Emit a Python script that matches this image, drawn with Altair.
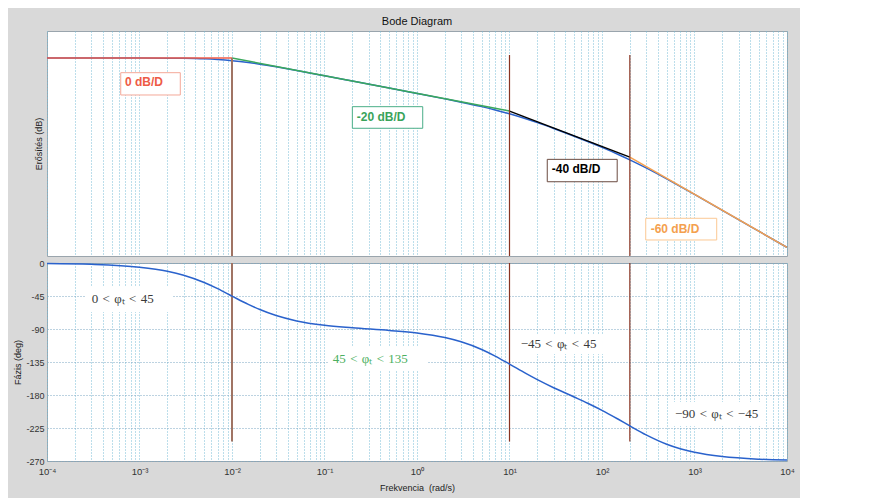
import altair as alt
import pandas as pd

# ---------------- data ----------------
freq_mag = [1e-4, 1e-3, 2e-3, 3e-3, 5e-3, 7e-3, 1e-2, 1.5e-2, 2e-2, 3e-2, 5e-2, 0.1, 0.2, 0.5,
            1, 2, 3, 5, 7, 10, 15, 20, 30, 50, 70, 100, 150, 200, 300, 500, 700, 1000, 2000, 5000, 1e4]
mag_db = [0.0, -0.04, -0.17, -0.38, -0.97, -1.74, -3.01, -5.12, -6.99, -10.0, -14.15, -20.04, -26.03, -34.0,
          -40.04, -46.19, -49.9, -54.95, -58.64, -63.02, -68.66, -73.05, -79.64, -88.39, -94.4, -101.01,
          -108.98, -115.06, -124.21, -136.56, -145.02, -154.15, -172.08, -195.92, -214.0]

freq_ph = [1e-4, 3e-4, 1e-3, 2e-3, 3e-3, 5e-3, 7e-3, 1e-2, 1.5e-2, 2e-2, 3e-2, 5e-2, 0.1, 0.2, 0.5,
           1, 2, 3, 5, 7, 10, 15, 20, 30, 50, 70, 100, 150, 200, 300, 500, 700, 1000, 2000, 5000, 1e4]
phase_deg = [-0.6, -1.7, -5.7, -11.3, -16.7, -26.6, -35.0, -45.1, -56.4, -63.5, -71.7, -79.0, -84.9, -88.3,
             -91.9, -95.4, -101.6, -107.4, -117.9, -126.9, -137.8, -150.6, -159.1, -170.1, -182.7, -191.2,
             -200.9, -213.1, -222.1, -234.4, -247.1, -253.2, -258.1, -264.0, -267.6, -268.8]

# asymptotes
asym_name = ["0", "0", "-20", "-20", "-40", "-40", "-60", "-60"]
asym_freq = [1e-4, 1e-2, 1e-2, 10, 10, 200, 200, 1e4]
asym_db = [0.0, 0.0, 0.0, -60.0, -60.0, -112.04, -112.04, -214.0]
asym_order = ["0", "-20", "-40", "-60"]
asym_colors = ["#f05c48", "#3aa85c", "#000000", "#f5a04e"]

# corner frequencies (vertical lines)
corner_freq = [0.01, 10, 200]
corner_top_db = [0.0, 3.4, 3.4]
corner_color = ["#a07464", "#8a3422", "#8a3422"]
corner_width = [2.0, 1.2, 1.2]
corner_phase_top = [0.0, 0.0, 0.0]
corner_phase_end = [-243.5, -243.5, -243.5]

# magnitude annotations
mag_labels = ["0 dB/D", "-20 dB/D", "-40 dB/D", "-60 dB/D"]
mag_label_x = [6.97e-4, 0.223, 28.6, 336]
mag_label_y = [-27.5, -67.0, -125.8, -192.9]
mag_box_x1 = [6.27e-4, 0.2, 25.6, 297]
mag_box_x2 = [2.76e-3, 1.153, 146, 1738]
mag_box_y1 = [-16.6, -55.0, -114.5, -181.1]
mag_box_y2 = [-41.8, -79.4, -139.8, -205.6]
mag_text_color = ["#ee5b45", "#3aa35a", "#000000", "#f4a04e"]
mag_box_color = ["#f4a898", "#4aae88", "#6b4b40", "#fbc894"]

# phase annotations
sp = "\u2004"
ph_labels = [f"0{sp}<{sp}φₜ{sp}<{sp}45", f"45{sp}<{sp}φₜ{sp}<{sp}135",
             f"−45{sp}<{sp}φₜ{sp}<{sp}45", f"−90{sp}<{sp}φₜ{sp}<{sp}−45"]
ph_label_x = [3.04e-4, 0.123, 13.2, 615]
ph_label_y = [-49.1, -131.0, -110.5, -206.0]
ph_box_x1 = [2.58e-4, 0.109, 11.5, 543]
ph_box_x2 = [2.3e-3, 1.315, 102.5, 5780]
ph_box_y1 = [-31.4, -114.6, -96.9, -189.6]
ph_box_y2 = [-66.8, -147.3, -124.1, -222.4]
ph_text_color = ["#3a3a3a", "#4cb060", "#3a3a3a", "#3a3a3a"]

# axis ticks
decades = [-4, -3, -2, -1, 0, 1, 2, 3]
mults = [1, 2, 3, 4, 5, 6, 7, 8, 9]
decade_labels = ["10⁻⁴", "10⁻³", "10⁻²", "10⁻¹", "10⁰", "10¹", "10²", "10³", "10⁴"]
phase_ticks = [0, -45, -90, -135, -180, -225, -270]

tick_vals = [m * 10.0 ** k for k in decades for m in mults] + [1e4]

# ---------------- frames ----------------
df_mag = pd.DataFrame({"f": freq_mag, "v": mag_db})
df_ph = pd.DataFrame({"f": freq_ph, "v": phase_deg})
df_asym = pd.DataFrame({"f": asym_freq, "v": asym_db, "s": asym_name})
df_corner = pd.DataFrame({"f": corner_freq, "top": corner_top_db, "c": corner_color,
                          "w": corner_width, "ptop": corner_phase_top, "pend": corner_phase_end})
df_mag_ann = pd.DataFrame({"t": mag_labels, "x": mag_label_x, "y": mag_label_y,
                           "x1": mag_box_x1, "x2": mag_box_x2, "y1": mag_box_y1, "y2": mag_box_y2,
                           "tc": mag_text_color, "bc": mag_box_color})
df_ph_ann = pd.DataFrame({"t": ph_labels, "x": ph_label_x, "y": ph_label_y,
                          "x1": ph_box_x1, "x2": ph_box_x2, "y1": ph_box_y1, "y2": ph_box_y2,
                          "tc": ph_text_color})

W = 740
H_TOP = 225
H_BOT = 198
GRID_COL = "#78bcd6"

xs = alt.Scale(type="log", domain=[1e-4, 1e4], nice=False)
label_expr = ("abs(log(datum.value)/LN10 - round(log(datum.value)/LN10)) < 0.001 ? "
              + str(decade_labels) + "[round(log(datum.value)/LN10) + 4] : ''")

x_axis_top = alt.Axis(values=tick_vals, labels=False, ticks=False, domain=False, title=None,
                      grid=True, gridColor=GRID_COL, gridDash=[1, 2], gridWidth=1, gridOpacity=1)
x_axis_bot = alt.Axis(values=tick_vals, labelExpr=label_expr, ticks=False, domain=False,
                      title="Frekvencia\u00a0 (rad/s)", titleFontSize=9, titlePadding=7.5,
                      labelFontSize=9.5, labelPadding=5, labelFlush=False, labelOverlap=False,
                      grid=True, gridColor=GRID_COL, gridDash=[1, 2], gridWidth=1, gridOpacity=1)

ys_top = alt.Scale(domain=[-223.7, 30.5], nice=False, zero=False)
y_axis_top = alt.Axis(labels=False, ticks=False, domain=False, grid=False,
                      title="Erősítés (dB)", titleFontSize=9, titleX=-4)
ys_bot = alt.Scale(domain=[-270, 0], nice=False, zero=False)
y_axis_bot = alt.Axis(values=phase_ticks, labelExpr="datum.value == 0 ? '0' : '-' + abs(datum.value)",
                      ticks=False, domain=False, labelFontSize=9, labelPadding=3,
                      grid=True, gridColor="#7aa6c2", gridDash=[1, 2], gridWidth=1, gridOpacity=1,
                      title="Fázis (deg)", titleFontSize=9, titleX=-25)

# ---------------- top panel ----------------
blue_top = alt.Chart(df_mag).mark_line(color="#2a62cc", strokeWidth=1.5, interpolate="monotone").encode(
    x=alt.X("f:Q", scale=xs, axis=x_axis_top),
    y=alt.Y("v:Q", scale=ys_top, axis=y_axis_top))

asym = alt.Chart(df_asym).mark_line(strokeWidth=1.5).encode(
    x=alt.X("f:Q", scale=xs, axis=x_axis_top),
    y=alt.Y("v:Q", scale=ys_top, axis=y_axis_top),
    color=alt.Color("s:N", scale=alt.Scale(domain=asym_order, range=asym_colors), legend=None),
    detail="s:N")

rules_top = alt.Chart(df_corner).mark_rule().encode(
    x=alt.X("f:Q", scale=xs, axis=x_axis_top),
    y=alt.Y("top:Q", scale=ys_top, axis=y_axis_top),
    y2=alt.value(H_TOP),
    color=alt.Color("c:N", scale=None),
    strokeWidth=alt.StrokeWidth("w:Q", scale=None))

mag_boxes = alt.Chart(df_mag_ann).mark_rect(fill="white", strokeWidth=1).encode(
    x=alt.X("x1:Q", scale=xs, axis=x_axis_top), x2="x2:Q",
    y=alt.Y("y1:Q", scale=ys_top, axis=y_axis_top), y2="y2:Q",
    stroke=alt.Stroke("bc:N", scale=None))

mag_text = alt.Chart(df_mag_ann).mark_text(align="left", baseline="middle", font="Liberation Sans",
                                           fontSize=12, fontWeight="bold").encode(
    x=alt.X("x:Q", scale=xs, axis=x_axis_top),
    y=alt.Y("y:Q", scale=ys_top, axis=y_axis_top),
    text="t:N",
    color=alt.Color("tc:N", scale=None))

top = alt.layer(blue_top, asym, rules_top, mag_boxes, mag_text).properties(
    width=W, height=H_TOP,
    title=alt.TitleParams("Bode Diagram", fontSize=11, font="Liberation Sans", fontWeight="normal",
                          offset=4, frame="group", anchor="middle", color="#111111"))

# ---------------- bottom panel ----------------
ph_boxes = alt.Chart(df_ph_ann).mark_rect(fill="white").encode(
    x=alt.X("x1:Q", scale=xs, axis=x_axis_bot), x2="x2:Q",
    y=alt.Y("y1:Q", scale=ys_bot, axis=y_axis_bot), y2="y2:Q")

rules_bot = alt.Chart(df_corner).mark_rule().encode(
    x=alt.X("f:Q", scale=xs, axis=x_axis_bot),
    y=alt.Y("ptop:Q", scale=ys_bot, axis=y_axis_bot),
    y2="pend:Q",
    color=alt.Color("c:N", scale=None),
    strokeWidth=alt.StrokeWidth("w:Q", scale=None))

blue_bot = alt.Chart(df_ph).mark_line(color="#2a62cc", strokeWidth=1.5, interpolate="monotone").encode(
    x=alt.X("f:Q", scale=xs, axis=x_axis_bot),
    y=alt.Y("v:Q", scale=ys_bot, axis=y_axis_bot))

ph_text = alt.Chart(df_ph_ann).mark_text(align="left", baseline="middle", font="Liberation Serif",
                                         fontSize=13).encode(
    x=alt.X("x:Q", scale=xs, axis=x_axis_bot),
    y=alt.Y("y:Q", scale=ys_bot, axis=y_axis_bot),
    text="t:N",
    color=alt.Color("tc:N", scale=None))

bottom = alt.layer(ph_boxes, rules_bot, blue_bot, ph_text).properties(width=W, height=H_BOT)

chart = alt.vconcat(top, bottom, spacing=7, bounds="flush").properties(
    background="#d9d9d9",
    padding={"left": 4, "top": 7, "right": 5, "bottom": 5},
).configure_view(fill="white", stroke="#9aa5ad", strokeWidth=1).configure_axis(
    labelFont="Liberation Sans", titleFont="Liberation Sans", labelColor="#333333",
    titleColor="#222222", titleFontWeight="normal")

chart.save("out.html", embed_options={"renderer": "svg", "actions": False})
